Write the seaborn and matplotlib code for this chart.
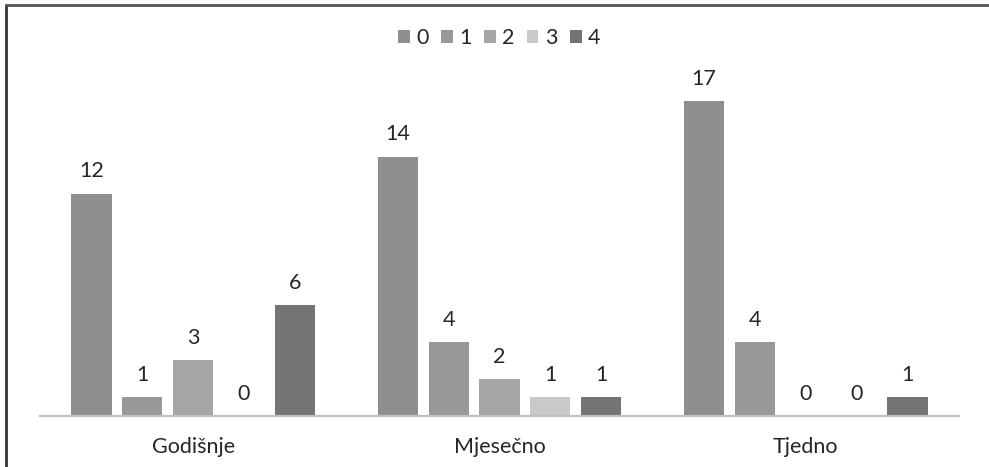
import matplotlib
matplotlib.use("Agg")
import matplotlib.pyplot as plt
import seaborn as sns
import pandas as pd
from matplotlib.lines import Line2D

categories = ["Godišnje", "Mjesečno", "Tjedno"]
series_names = ["0", "1", "2", "3", "4"]
s0 = [12, 14, 17]
s1 = [1, 4, 4]
s2 = [3, 2, 0]
s3 = [0, 1, 0]
s4 = [6, 1, 1]
colors = ["#8e8e91", "#98989b", "#a5a6a8", "#c8c9cb", "#747477"]

rows = []
for name, vals in zip(series_names, [s0, s1, s2, s3, s4]):
    for c, v in zip(categories, vals):
        rows.append({"cat": c, "ser": name, "val": v})
df = pd.DataFrame(rows)

sns.set_style("white")
plt.rcParams["font.family"] = ["Lato", "DejaVu Sans"]

W, H = 989, 467
fig = plt.figure(figsize=(W / 100, H / 100), dpi=100)
ax = fig.add_axes([40 / W, (H - 416) / H, 919 / W, (416 - 15) / H])

sns.barplot(data=df, x="cat", y="val", hue="ser", order=categories,
            hue_order=series_names, palette=colors, width=0.83, gap=0.21,
            saturation=1, ax=ax, legend=True, edgecolor="none", linewidth=0)

ax.set_xlim(-0.5, 2.5)
ax.set_ylim(0, 401 / 18.53)
ax.set_xlabel("")
ax.set_ylabel("")
ax.set_yticks([])
for s in ["left", "right", "top"]:
    ax.spines[s].set_visible(False)
ax.spines["bottom"].set_color("#c0c0c0")
ax.spines["bottom"].set_linewidth(1.6)
ax.tick_params(axis="x", length=0, pad=15, labelsize=15.5, colors="#262626")

for cont in ax.containers:
    for bar in cont:
        h = bar.get_height()
        ax.annotate(f"{int(round(h))}", (bar.get_x() + bar.get_width() / 2, h),
                    xytext=(0, 16), textcoords="offset points",
                    ha="center", va="center", fontsize=15.5, color="#262626")

leg = ax.legend(loc="center", bbox_to_anchor=(0.5, 1 - (38 - 15) / 401),
                ncol=5, frameon=False, fontsize=15.5, handlelength=0.52,
                handleheight=0.52, handletextpad=0.3, columnspacing=0.6,
                labelcolor="#262626")

# cropped frame lines (left and top)
fig.add_artist(Line2D([6 / W, 6 / W], [0, 1 - 5 / H], transform=fig.transFigure,
                      color="#333333", linewidth=2))
fig.add_artist(Line2D([6 / W, 1], [1 - 5 / H, 1 - 5 / H], transform=fig.transFigure,
                      color="#555555", linewidth=2))

fig.savefig("out.png", dpi=100)
